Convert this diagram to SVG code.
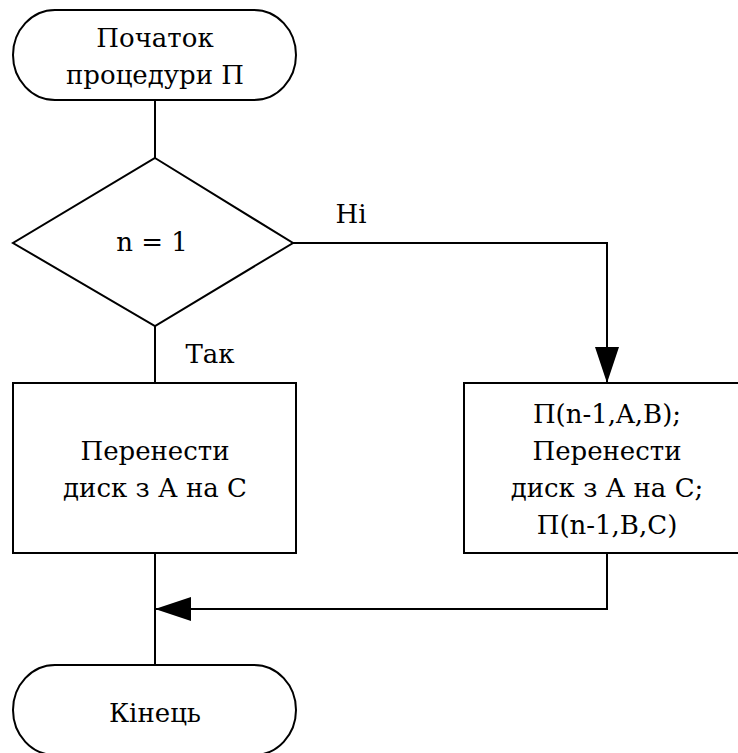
<svg xmlns="http://www.w3.org/2000/svg" width="738" height="753" viewBox="0 0 738 753">
<style>
.s{fill:#fff;stroke:#000;stroke-width:2}
.c{fill:none;stroke:#000;stroke-width:2}
.t{font-family:'DejaVu Serif',serif;font-size:26px;fill:#000;text-anchor:middle}
</style>
<defs>
<marker id="ah" viewBox="0 0 36 24" refX="36" refY="12" markerWidth="36" markerHeight="24" markerUnits="userSpaceOnUse" orient="auto">
<path d="M0,0 L36,12 L0,24 Z" fill="#000"/>
</marker>
</defs>
<rect width="738" height="753" fill="#fff"/>
<g id="connectors">
<path class="c" d="M155,100 V158"/>
<path class="c" d="M155,326 V383"/>
<path class="c" d="M293,243 H607 V383" marker-end="url(#ah)"/>
<path class="c" d="M155,553 V665"/>
<path class="c" d="M607,553 V609 H155" marker-end="url(#ah)"/>
</g>
<g id="start">
<rect class="s" x="13" y="10" width="283" height="90" rx="42" ry="45"/>
<text class="t" x="155" y="47">Початок</text>
<text class="t" x="155" y="84">процедури П</text>
</g>
<g id="decision">
<polygon class="s" points="155,158 293,243 155,326 13,243"/>
<text class="t" x="152" y="251">n = 1</text>
</g>
<g id="labels">
<text class="t" x="351" y="223">Ні</text>
<text class="t" x="210" y="363">Так</text>
</g>
<g id="move">
<rect class="s" x="13" y="383" width="283" height="170"/>
<text class="t" x="155" y="460">Перенести</text>
<text class="t" x="155" y="497">диск з А на С</text>
</g>
<g id="recurse">
<rect class="s" x="464" y="383" width="290" height="170"/>
<text class="t" x="607" y="423">П(n-1,A,B);</text>
<text class="t" x="607" y="460">Перенести</text>
<text class="t" x="607" y="497">диск з А на С;</text>
<text class="t" x="607" y="534">П(n-1,B,C)</text>
</g>
<g id="end">
<rect class="s" x="13" y="665" width="283" height="90" rx="42" ry="45"/>
<text class="t" x="155" y="722">Кінець</text>
</g>
</svg>
